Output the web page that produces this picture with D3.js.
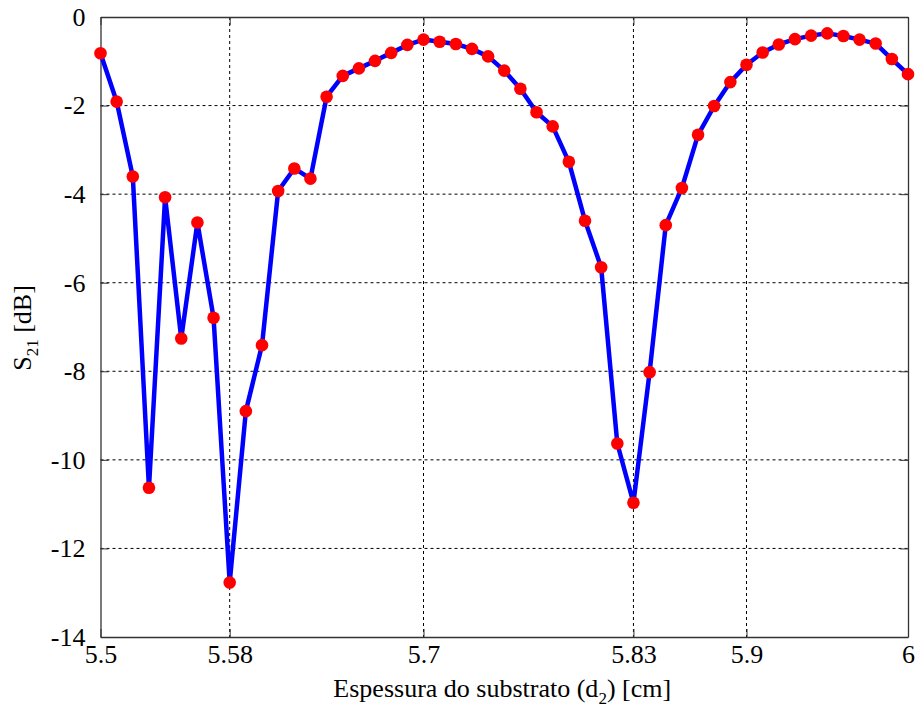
<!DOCTYPE html>
<html>
<head>
<meta charset="utf-8">
<script src="https://cdn.jsdelivr.net/npm/d3@7"></script>
<style>
  svg text { font-family: "Liberation Serif", "Times New Roman", Tinos, "Nimbus Roman", FreeSerif, serif !important; }
</style>
</head>
<body style="margin:0;background:#fff">
<svg id="chart" width="916" height="707"></svg>
<script>
// substrate thickness d2 [cm]
const thickness = [5.50, 5.51, 5.52, 5.53, 5.54, 5.55, 5.56, 5.57, 5.58, 5.59,
                   5.60, 5.61, 5.62, 5.63, 5.64, 5.65, 5.66, 5.67, 5.68, 5.69,
                   5.70, 5.71, 5.72, 5.73, 5.74, 5.75, 5.76, 5.77, 5.78, 5.79,
                   5.80, 5.81, 5.82, 5.83, 5.84, 5.85, 5.86, 5.87, 5.88, 5.89,
                   5.90, 5.91, 5.92, 5.93, 5.94, 5.95, 5.96, 5.97, 5.98, 5.99, 6.00];
// S21 [dB]
const s21 = [-0.82, -1.91, -3.60, -10.63, -4.07, -7.26, -4.64, -6.79, -12.77, -8.90,
             -7.41, -3.93, -3.42, -3.65, -1.80, -1.33, -1.16, -0.99, -0.81, -0.63,
             -0.51, -0.56, -0.61, -0.72, -0.89, -1.21, -1.62, -2.15, -2.47, -3.27,
             -4.60, -5.65, -9.63, -10.97, -8.02, -4.70, -3.86, -2.66, -2.01, -1.47,
             -1.08, -0.80, -0.62, -0.50, -0.42, -0.37, -0.43, -0.51, -0.60, -0.95, -1.29];
const xTicks = [5.5, 5.58, 5.7, 5.83, 5.9, 6];
const yTicks = [0, -2, -4, -6, -8, -10, -12, -14];

const SERIF = '"Liberation Serif", "Times New Roman", Tinos, "Nimbus Roman", FreeSerif, serif';
const svg = d3.select("#chart");
const m = {left: 100.5, right: 8, top: 17, bottom: 70};
const w = 916 - m.left - m.right, h = 707 - m.top - m.bottom;

const x = d3.scaleLinear().domain([5.5, 6]).range([0, w]);
const y = d3.scaleLinear().domain([-14, 0]).range([h, 0]);

const g = svg.append("g").attr("transform", `translate(${m.left},${m.top})`);

// grid
g.append("g").selectAll("line").data(xTicks.slice(1, -1)).join("line")
  .attr("x1", d => x(d)).attr("x2", d => x(d)).attr("y1", 0).attr("y2", h)
  .attr("stroke", "#000").attr("stroke-width", 1).attr("stroke-dasharray", "3,3");
g.append("g").selectAll("line").data(yTicks.slice(1, -1)).join("line")
  .attr("x1", 0).attr("x2", w).attr("y1", d => y(d)).attr("y2", d => y(d))
  .attr("stroke", "#000").attr("stroke-width", 1).attr("stroke-dasharray", "3,3");

// axes (inner ticks, matlab style)
const fmt = d => String(d);
const xb = g.append("g").attr("transform", `translate(0,${h})`)
  .call(d3.axisBottom(x).tickValues(xTicks).tickSizeInner(-8).tickSizeOuter(0).tickPadding(12).tickFormat(fmt));
const xt = g.append("g")
  .call(d3.axisTop(x).tickValues(xTicks).tickSizeInner(-8).tickSizeOuter(0).tickFormat(""));
const yl = g.append("g")
  .call(d3.axisLeft(y).tickValues(yTicks).tickSizeInner(-8).tickSizeOuter(0).tickPadding(15).tickFormat(fmt));
const yr = g.append("g").attr("transform", `translate(${w},0)`)
  .call(d3.axisRight(y).tickValues(yTicks).tickSizeInner(-8).tickSizeOuter(0).tickFormat(""));
[xb, xt, yl, yr].forEach(a => {
  a.attr("font-family", null).attr("font-size", null);
  a.select(".domain").attr("stroke", "#333").attr("stroke-width", 1.3);
  a.selectAll(".tick line").attr("stroke", "#333");
  a.selectAll("text").attr("fill", "#000").style("font-size", "26px");
});
xb.selectAll("text").attr("dy", "0.55em");

// data line
const line = d3.line().x((d, i) => x(thickness[i])).y(d => y(d));
g.append("path").datum(s21).attr("d", line)
  .attr("fill", "none").attr("stroke", "#0000ff").attr("stroke-width", 4.5)
  .attr("stroke-linejoin", "round");
g.append("g").selectAll("circle").data(s21).join("circle")
  .attr("cx", (d, i) => x(thickness[i])).attr("cy", d => y(d)).attr("r", 6.3)
  .attr("fill", "#ff0000");

// labels
const xl = svg.append("text").attr("x", m.left + w / 2 - 2).attr("y", 697)
  .attr("text-anchor", "middle").style("font-size", "26px");
xl.append("tspan").text("Espessura do substrato (d");
xl.append("tspan").attr("dy", 7).style("font-size", "17px").text("2");
xl.append("tspan").attr("dy", -7).text(") [cm]");

const ylab = svg.append("text").attr("transform", "translate(31,328) rotate(-90)")
  .attr("text-anchor", "middle").style("font-size", "26px");
ylab.append("tspan").text("S");
ylab.append("tspan").attr("dy", 7).style("font-size", "17px").text("21");
ylab.append("tspan").attr("dy", -7).text(" [dB]");

svg.selectAll("text").style("font-family", SERIF);
</script>
</body>
</html>
